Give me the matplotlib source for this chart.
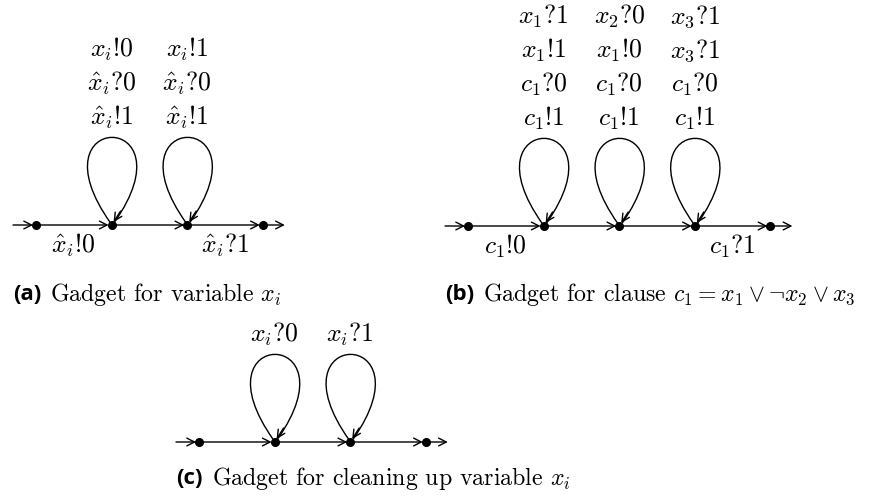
import matplotlib
matplotlib.use('Agg')
import matplotlib.pyplot as plt
from matplotlib.patches import FancyArrowPatch, PathPatch
from matplotlib.path import Path

plt.rcParams['mathtext.fontset'] = 'cm'

# labels of the three gadgets (loop labels listed top to bottom)
loops_a = [[r'$x_i$!0', r'$\hat{x}_i$?0', r'$\hat{x}_i$!1'],
           [r'$x_i$!1', r'$\hat{x}_i$?0', r'$\hat{x}_i$!1']]
edges_a = [r'$\hat{x}_i$!0', r'$\hat{x}_i$?1']
caption_a = ('(a)', r'Gadget for variable $x_i$')

loops_b = [[r'$x_1$?1', r'$x_1$!1', r'$c_1$?0', r'$c_1$!1'],
           [r'$x_2$?0', r'$x_1$!0', r'$c_1$?0', r'$c_1$!1'],
           [r'$x_3$?1', r'$x_3$?1', r'$c_1$?0', r'$c_1$!1']]
edges_b = [r'$c_1$!0', r'$c_1$?1']
caption_b = ('(b)', r'Gadget for clause $c_1 = x_1 \vee \neg x_2 \vee x_3$')

loops_c = [[r'$x_i$?0'], [r'$x_i$?1']]
edges_c = [None, None]
caption_c = ('(c)', r'Gadget for cleaning up variable $x_i$')

FS = 18.5
STEP = 75.6
ROW = 33.8


def arrow(ax, p, q, lw=1.0):
    ax.add_patch(FancyArrowPatch(p, q, arrowstyle='->,head_length=5.5,head_width=2.8',
                                 lw=lw, color='black', shrinkA=0, shrinkB=0,
                                 mutation_scale=1))


def gadget(ax, x0, y, loops, edges, caption, cap_x, cap_y):
    n = len(loops) + 2
    xs = [x0 + i * STEP for i in range(n)]
    # incoming, chain and outgoing arrows
    arrow(ax, (xs[0] - 23, y), (xs[0] - 3, y))
    for a, b in zip(xs[:-1], xs[1:]):
        arrow(ax, (a, y), (b - 3, y))
    arrow(ax, (xs[-1], y), (xs[-1] + 22, y))
    ax.plot(xs, [y] * n, 'o', color='black', ms=5.5, zorder=5)
    # self loops
    for i, labels in enumerate(loops):
        xn = xs[i + 1]
        verts = [(xn - 1, y - 2), (xn - 82, y - 116), (xn + 82, y - 116), (xn + 3, y - 3)]
        codes = [Path.MOVETO, Path.CURVE4, Path.CURVE4, Path.CURVE4]
        ax.add_patch(PathPatch(Path(verts, codes), fc='none', ec='black', lw=1.0))
        arrow(ax, (xn + 9, y - 14), (xn + 2, y - 3))
        top = y - 108
        for k, lab in enumerate(labels[::-1]):
            ax.text(xn, top - k * ROW, lab, ha='center', va='center', fontsize=FS,
                    family='cmr10')
    # edge labels under first and last edges
    if edges[0]:
        ax.text((xs[0] + xs[1]) / 2, y + 20, edges[0], ha='center', va='center',
                fontsize=FS, family='cmr10')
    if edges[1]:
        ax.text((xs[-2] + xs[-1]) / 2, y + 20, edges[1], ha='center', va='center',
                fontsize=FS, family='cmr10')
    t = ax.text(cap_x, cap_y, caption[0], ha='left', va='center', fontsize=16,
                fontweight='bold', family='Open Sans')
    ax.annotate(caption[1], xycoords=t, xy=(1, 0.5), xytext=(6.5, 0),
                textcoords='offset points', va='center', ha='left',
                fontsize=17.2, family='cmr10')


fig = plt.figure(figsize=(8.69, 4.96), dpi=100)
ax = fig.add_axes([0, 0, 1, 1])
ax.set_xlim(0, 869)
ax.set_ylim(496, 0)
ax.axis('off')

gadget(ax, 36, 225, loops_a, edges_a, caption_a, 13, 295)
gadget(ax, 468, 226, loops_b, edges_b, caption_b, 445, 295)
gadget(ax, 199, 442, loops_c, edges_c, caption_c, 176, 478)

fig.savefig('out.png', dpi=100)
